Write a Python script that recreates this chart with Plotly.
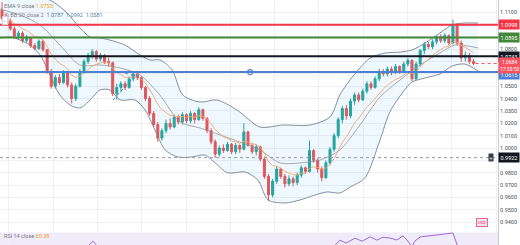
import plotly.graph_objects as go
import pandas as pd

# ---------------- data ----------------
opens = [1.1120,1.1050,1.1030,1.0965,1.0905,1.0930,1.0870,1.0895,1.0830,1.0805,
 1.0865,1.0795,1.0620,1.0500,1.0570,1.0530,1.0610,1.0510,1.0400,1.0500,
 1.0620,1.0700,1.0750,1.0780,1.0720,1.0750,1.0700,1.0690,1.0440,1.0490,
 1.0520,1.0490,1.0560,1.0600,1.0570,1.0490,1.0400,1.0280,1.0190,1.0080,
 1.0140,1.0200,1.0170,1.0250,1.0210,1.0270,1.0220,1.0280,1.0230,1.0310,
 1.0240,1.0140,1.0050,0.9950,1.0000,0.9980,1.0030,0.9970,1.0020,0.9990,
 1.0130,1.0020,0.9970,1.0010,0.9910,0.9770,0.9620,0.9730,0.9830,0.9770,
 0.9710,0.9750,0.9720,0.9780,0.9840,0.9810,0.9980,0.9900,0.9830,0.9760,
 0.9880,0.9990,1.0100,1.0230,1.0320,1.0260,1.0380,1.0430,1.0390,1.0460,
 1.0520,1.0490,1.0560,1.0620,1.0600,1.0640,1.0610,1.0660,1.0620,1.0680,
 1.0710,1.0560,1.0680,1.0790,1.0840,1.0820,1.0860,1.0900,1.0870,1.0910,
 1.0850,1.1000,1.0850,1.0730,1.0750,1.0700]
highs = [1.1180,1.1090,1.1050,1.0985,1.0950,1.0945,1.0915,1.0900,1.0850,1.0880,
 1.0875,1.0800,1.0640,1.0590,1.0600,1.0630,1.0620,1.0530,1.0520,1.0640,
 1.0720,1.0770,1.0800,1.0795,1.0770,1.0760,1.0730,1.0700,1.0520,1.0540,
 1.0540,1.0580,1.0620,1.0625,1.0580,1.0500,1.0420,1.0300,1.0210,1.0160,
 1.0230,1.0240,1.0270,1.0270,1.0290,1.0280,1.0300,1.0290,1.0330,1.0320,
 1.0250,1.0160,1.0070,1.0020,1.0030,1.0050,1.0040,1.0040,1.0030,1.0200,
 1.0140,1.0040,1.0030,1.0020,0.9930,0.9790,0.9750,0.9850,0.9840,0.9790,
 0.9780,0.9770,0.9800,0.9860,0.9850,1.0060,0.9990,0.9920,0.9850,0.9900,
 1.0010,1.0120,1.0250,1.0340,1.0350,1.0400,1.0450,1.0450,1.0480,1.0540,
 1.0540,1.0580,1.0640,1.0640,1.0660,1.0660,1.0680,1.0670,1.0700,1.0730,
 1.0720,1.0700,1.0800,1.0860,1.0860,1.0880,1.0910,1.0920,1.0930,1.0920,
 1.1040,1.1010,1.0870,1.0780,1.0770,1.0720]
lows = [1.1040,1.1010,1.0950,1.0890,1.0880,1.0850,1.0855,1.0810,1.0790,1.0795,
 1.0780,1.0600,1.0480,1.0480,1.0510,1.0520,1.0490,1.0360,1.0380,1.0490,
 1.0600,1.0680,1.0720,1.0700,1.0700,1.0680,1.0660,1.0420,1.0390,1.0450,
 1.0470,1.0480,1.0540,1.0550,1.0470,1.0380,1.0260,1.0170,1.0050,1.0060,
 1.0120,1.0150,1.0160,1.0190,1.0190,1.0200,1.0200,1.0200,1.0220,1.0220,
 1.0120,1.0030,0.9920,0.9930,0.9960,0.9970,0.9950,0.9950,0.9960,0.9980,
 1.0010,0.9950,0.9940,0.9890,0.9750,0.9570,0.9600,0.9710,0.9750,0.9680,
 0.9690,0.9690,0.9700,0.9760,0.9790,0.9800,0.9880,0.9800,0.9730,0.9750,
 0.9860,0.9970,1.0080,1.0200,1.0230,1.0240,1.0350,1.0370,1.0380,1.0440,
 1.0470,1.0480,1.0540,1.0580,1.0580,1.0590,1.0600,1.0600,1.0610,1.0660,
 1.0540,1.0550,1.0660,1.0760,1.0800,1.0800,1.0840,1.0850,1.0850,1.0830,
 1.0840,1.0830,1.0700,1.0700,1.0680,1.0670]
closes = [1.1050,1.1030,1.0965,1.0905,1.0930,1.0870,1.0895,1.0830,1.0805,1.0865,
 1.0795,1.0620,1.0500,1.0570,1.0530,1.0610,1.0510,1.0400,1.0500,1.0620,
 1.0700,1.0750,1.0780,1.0720,1.0750,1.0700,1.0690,1.0440,1.0490,1.0520,
 1.0490,1.0560,1.0600,1.0570,1.0490,1.0400,1.0280,1.0190,1.0080,1.0140,
 1.0200,1.0170,1.0250,1.0210,1.0270,1.0220,1.0280,1.0230,1.0310,1.0240,
 1.0140,1.0050,0.9950,1.0000,0.9980,1.0030,0.9970,1.0020,0.9990,1.0130,
 1.0020,0.9970,1.0010,0.9910,0.9770,0.9620,0.9730,0.9830,0.9770,0.9710,
 0.9750,0.9720,0.9780,0.9840,0.9810,0.9980,0.9900,0.9830,0.9760,0.9880,
 0.9990,1.0100,1.0230,1.0320,1.0260,1.0380,1.0430,1.0390,1.0460,1.0520,
 1.0490,1.0560,1.0620,1.0600,1.0640,1.0610,1.0660,1.0620,1.0680,1.0710,
 1.0560,1.0680,1.0790,1.0840,1.0820,1.0860,1.0900,1.0870,1.0910,1.0850,
 1.1000,1.0850,1.0730,1.0750,1.0700,1.0684]
bars = list(range(len(closes)))

# Bollinger bands (bar index, price)
bb_upper_x = [-0.5, 6.8, 11.7, 15.9, 19.0, 21.5, 23.9, 26.3, 30.0, 33.7, 36.1, 38.5, 41.5, 44.1,
              48.3, 52.4, 57.3, 62.9, 68.5, 75.1, 80.0, 82.4, 84.9, 87.3, 89.8, 93.4, 97.1,
              100.0, 103.2, 106.8, 109.8, 112.9, 116.1]
bb_upper_y = [1.1360, 1.1239, 1.1198, 1.1093, 1.0972, 1.0899, 1.0891, 1.0874, 1.0834, 1.0753,
              1.0713, 1.0713, 1.0632, 1.0429, 1.0372, 1.0389, 1.0308, 1.0170, 1.0186, 1.0186,
              1.0251, 1.0429, 1.0551, 1.0648, 1.0729, 1.0769, 1.0777, 1.0794, 1.0850, 1.0931,
              1.0996, 1.1012, 1.1012]
bb_lower_x = [-0.5, 2.0, 4.4, 6.8, 9.3, 11.7, 14.1, 16.6, 19.0, 21.5, 23.9, 26.3, 28.8, 32.4,
              34.9, 37.3, 39.8, 42.9, 46.3, 49.5, 52.0, 55.1, 59.3, 62.4, 64.9, 69.0, 72.7,
              76.3, 79.3, 82.4, 84.9, 88.5, 92.2, 94.6, 97.8, 100.0, 103.2, 106.8, 109.8,
              112.9, 116.1]
bb_lower_y = [1.0891, 1.0899, 1.0874, 1.0834, 1.0753, 1.0591, 1.0429, 1.0348, 1.0324, 1.0389,
              1.0470, 1.0470, 1.0389, 1.0389, 1.0308, 1.0146, 0.9984, 0.9927, 0.9927, 0.9943,
              0.9879, 0.9798, 0.9806, 0.9741, 0.9579, 0.9555, 0.9579, 0.9619, 0.9644, 0.9636,
              0.9684, 0.9757, 1.0065, 1.0292, 1.0453, 1.0534, 1.0567, 1.0599, 1.0664, 1.0680,
              1.0624]
bb_basis_x = [-0.5, 4.4, 9.3, 14.1, 19.0, 23.9, 28.8, 33.7, 38.5, 43.4, 48.3, 53.2, 58.0,
              62.9, 67.8, 72.7, 77.6, 82.4, 87.3, 92.2, 97.1, 102.0, 106.8, 110.5, 116.1]
bb_basis_y = [1.1125, 1.1077, 1.0996, 1.0834, 1.0672, 1.0672, 1.0648, 1.0591, 1.0429, 1.0211,
              1.0162, 1.0105, 1.0049, 0.9984, 0.9879, 0.9879, 0.9903, 0.9984, 1.0186, 1.0413,
              1.0551, 1.0672, 1.0769, 1.0834, 1.0810]

# RSI (only its top part is visible)
rsi_x = [-0.5, 9.3, 19.0, 21.0, 22.2, 23.2, 26.3, 27.6, 32.9, 38.5, 48.3, 53.2, 59.3, 64.9,
         67.8, 75.1, 78.0, 81.2, 82.4, 83.9, 86.1, 87.8, 89.8, 91.5, 92.9, 94.6, 96.3, 97.8,
         98.8, 100.0, 100.7, 102.0, 104.4, 106.8, 108.8, 110.0, 111.2, 112.2, 114.1, 115.0]
rsi_y = [40, 35, 50, 56, 61, 56, 50, 35, 50, 30, 45, 35, 50, 28, 40, 52, 42, 57, 62, 59, 64,
         61, 65.3, 62, 65, 64.2, 62.2, 66.3, 62.2, 55, 61.1, 65.3, 66.3, 67.3, 68.3, 69.4, 55,
         48, 50, 48]

# horizontal levels
level_names = ["red", "green", "black", "blue"]
level_values = [1.0998, 1.0895, 1.0743, 1.0615]
level_colors = ["#f23645", "#43873a", "#131722", "#4f7fd0"]
dotted_level = 0.9922
last_price = 1.0684

price_ticks = [round(0.94 + 0.01 * k, 2) for k in range(18)]
hidden_ticks = [0.99, 1.06, 1.07, 1.09, 1.10]

FONT = "Roboto"
UP, DOWN = "#26a69a", "#ef5350"

# ---------------- figure ----------------
fig = go.Figure()

# BB fill
fig.add_trace(go.Scatter(
    x=bb_upper_x + bb_lower_x[::-1], y=bb_upper_y + bb_lower_y[::-1],
    fill="toself", fillcolor="rgba(33,150,243,0.07)", line=dict(width=0),
    mode="lines", hoverinfo="skip", showlegend=False))
for xs, ys in [(bb_upper_x, bb_upper_y), (bb_lower_x, bb_lower_y)]:
    fig.add_trace(go.Scatter(x=xs, y=ys, mode="lines",
                             line=dict(color="rgba(110,125,140,0.85)", width=1, shape="spline", smoothing=0.8),
                             hoverinfo="skip", showlegend=False))
fig.add_trace(go.Scatter(x=bb_basis_x, y=bb_basis_y, mode="lines",
                         line=dict(color="rgba(150,150,150,0.8)", width=1, shape="spline", smoothing=0.8),
                         hoverinfo="skip", showlegend=False))

# EMA from closes
ema = pd.Series(closes).ewm(span=9, adjust=False).mean()
fig.add_trace(go.Scatter(x=bars, y=ema, mode="lines",
                         line=dict(color="rgba(245,166,110,0.9)", width=1),
                         hoverinfo="skip", showlegend=False))

# horizontal level lines
for v, c in zip(level_values, level_colors):
    fig.add_shape(type="line", xref="paper", x0=0, x1=1, yref="y", y0=v, y1=v,
                  line=dict(color=c, width=2), layer="above")
fig.add_shape(type="line", xref="paper", x0=0, x1=1, yref="y", y0=dotted_level, y1=dotted_level,
              line=dict(color="#9598a1", width=1, dash="dot"))

# dashed trend lines
fig.add_trace(go.Scatter(x=[27.1, 32.9], y=[1.0389, 1.0607], mode="lines",
                         line=dict(color="#4f7fd0", width=1, dash="dot"), showlegend=False, hoverinfo="skip"))
fig.add_trace(go.Scatter(x=[30.0, 33.7], y=[1.0607, 1.0567], mode="lines",
                         line=dict(color="#4f7fd0", width=1, dash="dot"), showlegend=False, hoverinfo="skip"))

# candles
fig.add_trace(go.Candlestick(
    x=bars, open=opens, high=highs, low=lows, close=closes,
    increasing=dict(line=dict(color=UP, width=1), fillcolor=UP),
    decreasing=dict(line=dict(color=DOWN, width=1), fillcolor=DOWN),
    whiskerwidth=0, showlegend=False, hoverinfo="skip"))

# marker on blue line
fig.add_trace(go.Scatter(x=[60.5], y=[level_values[3]], mode="markers",
                         marker=dict(size=5, color="white", line=dict(color="#4f7fd0", width=1.2)),
                         showlegend=False, hoverinfo="skip"))

# RSI pane
fig.add_shape(type="rect", xref="paper", x0=0, x1=1, yref="y2", y0=30, y1=70,
              fillcolor="rgba(126,87,194,0.12)", line=dict(width=0), layer="below")
fig.add_trace(go.Scatter(x=rsi_x, y=rsi_y, xaxis="x2", yaxis="y2", mode="lines",
                         line=dict(color="#9c6ade", width=1), showlegend=False, hoverinfo="skip"))

ticktext = ["" if t in hidden_ticks else f"{t:.4f}" for t in price_ticks]

fig.update_layout(
    width=520, height=245, margin=dict(l=0, r=22, t=0, b=0),
    paper_bgcolor="white", plot_bgcolor="white",
    font=dict(family=FONT, size=6, color="#131722"),
    xaxis=dict(domain=[0, 1], range=[-0.49, 120.98], showticklabels=False, showgrid=True,
               gridcolor="#eef0f5", gridwidth=1, tick0=1.7, dtick=10.8, zeroline=False,
               rangeslider=dict(visible=False), anchor="y", fixedrange=True),
    yaxis=dict(domain=[0.0653, 1], range=[0.93441, 1.11984], side="right",
               tickvals=price_ticks, ticktext=ticktext, showgrid=True, gridcolor="#eef0f5",
               zeroline=False, showline=True, linecolor="#c9ccd4", linewidth=1,
               tickfont=dict(size=5.5, color="#4a4e59"), ticks="", anchor="x"),
    xaxis2=dict(domain=[0, 1], matches="x", anchor="y2", showticklabels=False, showgrid=True,
                gridcolor="#eef0f5", tick0=1.7, dtick=10.8, zeroline=False),
    yaxis2=dict(domain=[0, 0.0653], range=[57, 73.5], side="right", tickvals=[60],
                ticktext=["60.00"], showgrid=False, zeroline=False, showline=True,
                linecolor="#c9ccd4", tickfont=dict(size=5.5, color="#4a4e59"), anchor="x2"),
)

# axis price labels
label_text = ["1.0998", "1.0895", "1.0743", "1.0615"]
label_shift = [0, 0, 0, -2]
for v, c, t, s in zip(level_values, level_colors, label_text, label_shift):
    fig.add_annotation(xref="paper", x=1, xanchor="left", yref="y", y=v, yshift=s,
                       text=t, showarrow=False, bgcolor=c, borderpad=1.5,
                       font=dict(color="white", size=5.5, family=FONT))
fig.add_annotation(xref="paper", x=1, xanchor="left", yref="y", y=last_price, yshift=-2,
                   text=f"{last_price:.4f}<br>17:39:50", showarrow=False, bgcolor="#f7525f",
                   borderpad=1, font=dict(color="white", size=5, family=FONT))
fig.add_annotation(xref="paper", x=1, xanchor="left", yref="y", y=dotted_level,
                   text=f"{dotted_level:.4f}", showarrow=False, bgcolor="#131722",
                   borderpad=1.5, font=dict(color="white", size=5.5, family=FONT))
fig.add_annotation(xref="paper", x=0.992, xanchor="right", yref="y", y=dotted_level,
                   text="+", showarrow=False, bgcolor="#3a3e48", borderpad=0.5,
                   font=dict(color="white", size=5, family=FONT))
fig.add_shape(type="line", xref="paper", x0=0.955, x1=1, yref="y", y0=last_price, y1=last_price,
              line=dict(color="#f7525f", width=1, dash="dot"))

# legend texts
fig.add_annotation(xref="paper", yref="paper", x=0.004, y=0.997, xanchor="left", yanchor="top",
                   text="EMA 9 close <span style='color:#f5a623'>1.0755</span>",
                   showarrow=False, font=dict(size=5.5, color="#787b86", family=FONT))
fig.add_annotation(xref="paper", yref="paper", x=0.004, y=0.96, xanchor="left", yanchor="top",
                   text="◎ BB 20 close 2  <span style='color:#5d7fa3'>1.0787  1.0992  1.0581</span>",
                   showarrow=False, font=dict(size=5.5, color="#787b86", family=FONT))
fig.add_annotation(xref="paper", yref="paper", x=0.004, y=0.058, xanchor="left", yanchor="top",
                   text="RSI 14 close <span style='color:#f5a623'>60.38</span>",
                   showarrow=False, font=dict(size=5.5, color="#787b86", family=FONT))
fig.add_annotation(xref="paper", yref="paper", x=0.01, y=0.915, xanchor="center", yanchor="middle",
                   text="−", showarrow=False, bgcolor="white", bordercolor="#d1d4dc", borderwidth=1,
                   borderpad=0.5, font=dict(size=5, color="#f23645", family=FONT))
# event badge
fig.add_annotation(x=117, y=0.9393, xref="x", yref="y", text="USD", showarrow=False,
                   bgcolor="#fce4ec", bordercolor="#f06292", borderwidth=1, borderpad=1,
                   font=dict(size=4, color="#e91e63", family=FONT))

fig.write_html("out.html")
